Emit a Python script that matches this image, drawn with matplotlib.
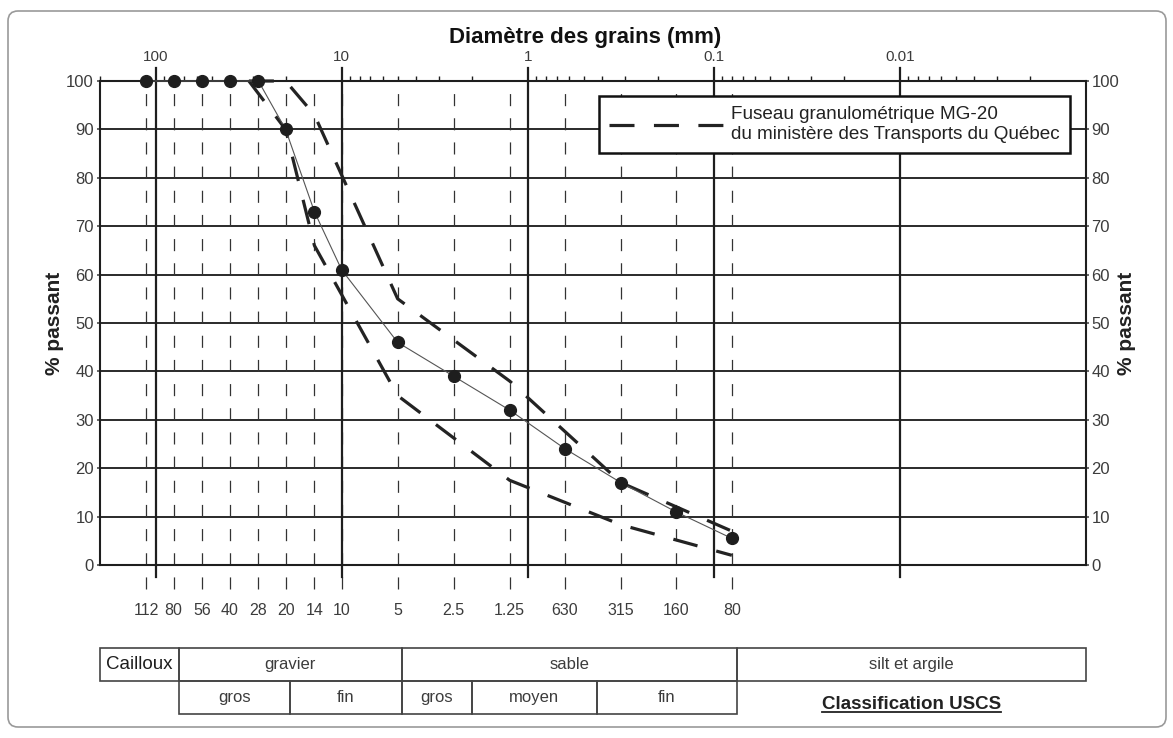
import numpy as np
import matplotlib.pyplot as plt
from matplotlib.patches import Rectangle, FancyBboxPatch
from matplotlib.lines import Line2D
from matplotlib.ticker import LogLocator, NullFormatter
from matplotlib.transforms import IdentityTransform

plt.rcParams['font.family'] = ['Liberation Sans', 'DejaVu Sans']
plt.rcParams['lines.scale_dashes'] = False

# sieve openings (mm) and their labels (um below 1 mm)
sieves = [112, 80, 56, 40, 28, 20, 14, 10, 5, 2.5, 1.25, 0.63, 0.315, 0.16, 0.08]
sieve_labels = ['112', '80', '56', '40', '28', '20', '14', '10', '5', '2.5', '1.25',
                '630', '315', '160', '80']
# percent passing, tested sample
passing = [100, 100, 100, 100, 100, 90, 73, 61, 46, 39, 32, 24, 17, 11, 5.5]

# MG-20 grading envelope
mg20_sizes = [31.5, 20, 14, 5, 1.25, 0.315, 0.08]
mg20_upper = [100, 100, 93, 55, 38, 17, 7]
mg20_lower = [100, 90, 66, 35, 17.5, 8.3, 2]

decades = [100, 10, 1, 0.1, 0.01]
decade_labels = ['100', '10', '1', '0.1', '0.01']
pct_ticks = list(range(0, 101, 10))

# USCS classes: (coarse limit, fine limit, name), mm
uscs_main = [(200, 75, 'Cailloux'), (75, 4.75, 'gravier'),
             (4.75, 0.075, 'sable'), (0.075, 0.001, 'silt et argile')]
uscs_sub = [(75, 19, 'gros'), (19, 4.75, 'fin'), (4.75, 2, 'gros'),
            (2, 0.425, 'moyen'), (0.425, 0.075, 'fin')]

W, H = 1173, 738
ink = '#1e1e1e'
grey_txt = '#3c3c3c'

fig = plt.figure(figsize=(W / 100, H / 100), dpi=100)
ax = fig.add_axes([99.5 / W, 1 - 565 / H, 986.5 / W, 484 / H])
ax.set_xscale('log')
ax.set_xlim(200, 0.001)
ax.set_ylim(0, 100)

# horizontal grid every 10 %
ax.set_yticks(pct_ticks)
ax.yaxis.grid(True, color='#2a2a2a', lw=1.4)
ax.set_axisbelow(True)
ax.tick_params(axis='y', left=True, right=True, labelleft=True, labelright=True,
               length=2.5, width=1.1, pad=1.5, labelsize=12, colors=grey_txt)

# decade labels on top, minor log ticks
ax.set_xticks(decades, decade_labels)
ax.xaxis.set_minor_locator(LogLocator(base=10, subs=np.arange(2, 10), numticks=60))
ax.xaxis.set_minor_formatter(NullFormatter())
ax.tick_params(axis='x', which='both', bottom=False, labelbottom=False,
               top=True, labeltop=True)
ax.tick_params(axis='x', which='major', length=0, pad=12.5, labelsize=11,
               labelcolor=grey_txt)
ax.tick_params(axis='x', which='minor', length=3.5, width=1.0, color=ink,
               direction='out')
for sp in ax.spines.values():
    sp.set_linewidth(1.5)
    sp.set_color(ink)

for d in decades:
    ax.axvline(d, ymin=-0.025, ymax=1.027, color=ink, lw=1.6, clip_on=False, zorder=2)

# sieve lines and labels
for s, lab in zip(sieves, sieve_labels):
    ax.plot([s, s], [-5, 100], color='#333333', lw=0.9, ls=(0, (8.7, 8.7)),
            clip_on=False, zorder=1.5)
    ax.text(s, -0.094, lab, transform=ax.get_xaxis_transform(), ha='center',
            va='center', fontsize=11.5, color=grey_txt)

env_style = dict(color='#232323', lw=2.3, ls=(0, (18, 14)), dash_capstyle='butt',
                 clip_on=False, zorder=3)
up, = ax.plot(mg20_sizes, mg20_upper, **env_style)
ax.plot(mg20_sizes, mg20_lower, **env_style)

ax.plot(sieves, passing, color='#555555', lw=0.8, marker='o', ms=8.5, mfc=ink,
        mec=ink, clip_on=False, zorder=4)

leg = ax.legend([up], ['Fuseau granulométrique MG-20\ndu ministère des Transports du Québec'],
                loc='upper right', bbox_to_anchor=(0.9838, 0.969), borderaxespad=0,
                fancybox=False, framealpha=1, edgecolor='#111111', fontsize=13.6,
                handlelength=6.0, handletextpad=0.45, borderpad=0.55)
leg.get_frame().set_linewidth(1.8)
for t in leg.get_texts():
    t.set_color('#222222')

fig.text(585 / W, 1 - 37 / H, 'Diamètre des grains (mm)', ha='center', va='center',
         fontsize=16, fontweight='bold', color='#111111')
for xp in (55, 1126):
    fig.text(xp / W, 1 - 323 / H, '% passant', rotation=90, ha='center', va='center',
             fontsize=15, fontweight='bold', color='#222222')

# USCS classification table
tax = fig.add_axes([99.5 / W, 1 - 714 / H, 986.5 / W, 66 / H])
tax.set_xscale('log')
tax.set_xlim(200, 0.001)
tax.set_ylim(0, 2)
tax.axis('off')
for row, cells in ((1, uscs_main), (0, uscs_sub)):
    for x0, x1, name in cells:
        tax.add_patch(Rectangle((x0, row), x1 - x0, 1, fill=False, ec='#444444',
                                lw=1.2, clip_on=False))
        big = name == 'Cailloux'
        tax.text(np.sqrt(x0 * x1), row + 0.5, name, ha='center', va='center',
                 fontsize=13.5 if big else 12, color=ink if big else grey_txt)

cls = tax.text(np.sqrt(0.075 * 0.001), 0.14, 'Classification USCS', ha='center',
               va='baseline', fontsize=13.5, fontweight='bold', color='#222222')
fig.canvas.draw()
bb = cls.get_window_extent()
tax.add_line(Line2D([bb.x0, bb.x1], [H - 712, H - 712], transform=IdentityTransform(),
                    color='#222222', lw=1.3, clip_on=False))

fig.add_artist(FancyBboxPatch((8, 11), 1158, 716, boxstyle='round,pad=0,rounding_size=10',
                              transform=IdentityTransform(), fill=False,
                              ec='#9a9a9a', lw=1.2))

fig.savefig('out.png', dpi=100)
